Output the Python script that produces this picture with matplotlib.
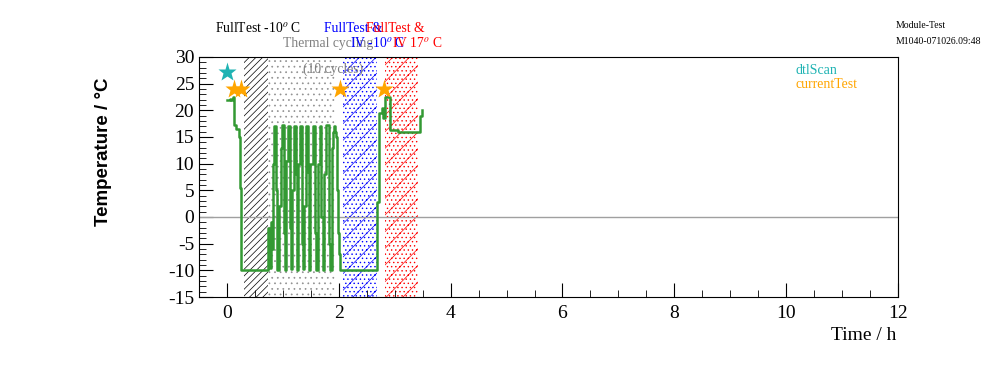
# -*- coding: utf-8 -*-
"""
Module-Test temperature history (ROOT-style look)
"""

import matplotlib
matplotlib.use("Agg")
import matplotlib.pyplot as plt
from matplotlib.ticker import MultipleLocator

plt.rcParams['font.family'] = ['Liberation Serif', 'DejaVu Serif']
plt.rcParams['mathtext.fontset'] = 'stix'
plt.rcParams['axes.unicode_minus'] = False
plt.rcParams['hatch.linewidth'] = 0.5

# temperature trace (time in h, temperature in C), drawn as steps
time_h = [0.00, 0.05, 0.08, 0.11, 0.12, 0.17, 0.21, 0.23, 0.25,
          0.74, 0.76, 0.78, 0.80, 0.82, 0.85, 0.88, 0.90,
          0.93, 0.96, 0.99, 1.02, 1.04,
          1.06, 1.09, 1.12, 1.14,
          1.16, 1.19, 1.23, 1.25,
          1.27, 1.30, 1.34, 1.36,
          1.38, 1.41, 1.45, 1.47,
          1.49, 1.53, 1.57, 1.59,
          1.62, 1.66, 1.69, 1.72,
          1.74, 1.78, 1.82, 1.84,
          1.87, 1.90, 1.92, 1.94, 1.95, 1.96, 1.98, 2.00, 2.02,
          2.69, 2.72, 2.77, 2.79, 2.82, 2.91, 3.05, 3.46, 3.49]
temp_c = [22.0, 22.2, 22.0, 22.5, 17.3, 16.5, 15.0, 5.5, -10.0,
          -2.0, -9.5, -1.0, -6.0, 10.0, 17.0, 5.0, -10.0,
          2.0, 13.0, 17.2, -3.0, -10.0,
          10.5, 17.0, -2.0, -9.8,
          5.0, 17.0, 8.0, -10.0,
          10.0, 17.0, -5.0, -9.8,
          2.0, 17.0, 8.5, -10.0,
          10.0, 17.0, -3.0, -10.0,
          10.0, 17.0, 0.0, -10.0,
          8.0, 17.2, -5.0, -10.0,
          13.0, 16.0, 17.0, 16.0, 15.0, 5.0, -3.0, -7.0, -10.0,
          2.8, 19.5, 20.5, 18.5, 22.5, 16.3, 16.0, 19.0, 20.0]

# test markers
dtl_t = [0.0]
dtl_T = [27.2]
cur_t = [0.12, 0.25, 2.03, 2.80]
cur_T = [24.0, 24.0, 24.0, 24.0]

# test periods: (start, end, colour, hatch)
bands = [(0.30, 0.73, 'black', '/////'),
         (0.73, 1.94, '#909090', '...'),
         (2.07, 2.69, 'blue', '//....'),
         (2.83, 3.42, 'red', '//....')]

fig = plt.figure(figsize=(9.96, 3.72), dpi=100)
ax = fig.add_axes([199/996, 1-297/372, 699/996, 240/372])

for t0, t1, col, h in bands:
    ax.axvspan(t0, t1, facecolor='none', edgecolor=col, hatch=h, linewidth=0)

ax.axhline(0, color='#a0a0a0', lw=1)
ax.plot(time_h + [3.49], temp_c + [20.0], drawstyle='steps-post', color='#339933', lw=1.8)
ax.plot(dtl_t, dtl_T, ls='none', marker='*', ms=14, color='#1fb3b3', mec='none')
ax.plot(cur_t, cur_T, ls='none', marker='*', ms=14, color='#ffa500', mec='none')

ax.set_xlim(-0.5, 12)
ax.set_ylim(-15, 30)
ax.xaxis.set_major_locator(MultipleLocator(2))
ax.xaxis.set_minor_locator(MultipleLocator(0.5))
ax.yaxis.set_major_locator(MultipleLocator(5))
ax.yaxis.set_minor_locator(MultipleLocator(1))
ax.tick_params(which='both', direction='in', labelsize=14, right=False, top=False)
ax.tick_params(which='major', length=10)
ax.tick_params(which='minor', length=5)
ax.tick_params(axis='x', pad=6)

fig.text(896/996, 1-335/372, 'Time / h', ha='right', va='center', fontsize=14)
fig.text(103/996, 1-152/372, 'Temperature / \u00b0C', rotation=90, ha='center', va='center',
         fontsize=13.5, fontweight='bold', family=['Liberation Sans', 'DejaVu Sans'])

# period annotations
fig.text(215/996, 1-28/372, r'FullTest -10$^{o}$ C', fontsize=9.8, va='center')
fig.text(283/996, 1-43/372, 'Thermal cycling', fontsize=9.8, va='center', color='#808080')
fig.text(303/996, 1-69/372, '(10 cycles)', fontsize=9.8, va='center', color='#808080')
fig.text(324/996, 1-28/372, 'FullTest &', fontsize=9.8, va='center', color='blue')
fig.text(350/996, 1-43/372, r'IV -10$^{o}$ C', fontsize=9.8, va='center', color='blue')
fig.text(366/996, 1-28/372, 'FullTest &', fontsize=9.8, va='center', color='red')
fig.text(392/996, 1-43/372, r'IV 17$^{o}$ C', fontsize=9.8, va='center', color='red')

# legend
fig.text(796/996, 1-70/372, 'dtlScan', fontsize=10, va='center', color='#1fb3b3')
fig.text(796/996, 1-85/372, 'currentTest', fontsize=10, va='center', color='#ffa500')

fig.text(896/996, 1-25/372, 'Module-Test', fontsize=7, va='center')
fig.text(896/996, 1-41/372, 'M1040-071026.09:48', fontsize=7, va='center')

fig.savefig('out.png', dpi=100)
